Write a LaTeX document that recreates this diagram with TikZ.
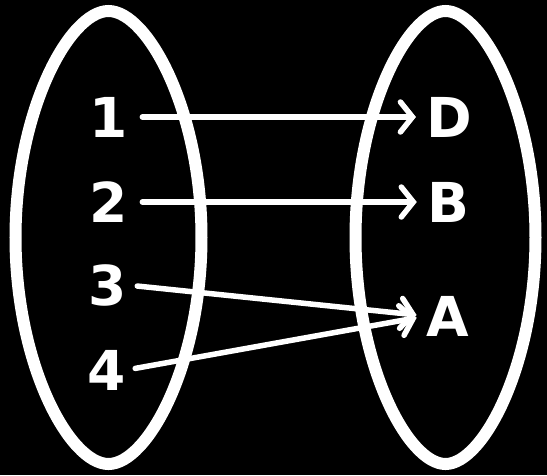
\documentclass[tikz,border=0pt]{standalone}
\usepackage{fontspec}
\setmainfont{DejaVu Sans}
\usetikzlibrary{arrows.meta}
\begin{document}
\begin{tikzpicture}[x=1pt,y=-1pt,
  lbl/.style={text=white,font=\bfseries\fontsize{55}{55}\selectfont,inner sep=0pt},
  ring/.style={draw=white,line width=12pt},
  link/.style={draw=white,line width=5.5pt,line cap=round,-{Straight Barb[length=12pt,width=30pt,line cap=round]}}]
\useasboundingbox (0,0) rectangle (547,475);
\fill[black] (0,0) rectangle (547,475);
% left set
\draw[ring] (108.5,11) .. controls (147.6,11) and (201.5,110.7) .. (201.5,237.5)
  .. controls (201.5,364.3) and (147.6,464) .. (108.5,464)
  .. controls (69.4,464) and (15.5,364.3) .. (15.5,237.5)
  .. controls (15.5,110.7) and (69.4,11) .. cycle;
% right set
\draw[ring] (445.5,11) .. controls (483.3,11) and (535.5,110.7) .. (535.5,237.5)
  .. controls (535.5,364.3) and (483.3,464) .. (445.5,464)
  .. controls (407.7,464) and (355.5,364.3) .. (355.5,237.5)
  .. controls (355.5,110.7) and (407.7,11) .. cycle;
\node[lbl] (n1) at (109,117) {1};
\node[lbl] (n2) at (109,202) {2};
\node[lbl] (n3) at (108,285) {3};
\node[lbl] (n4) at (107,370) {4};
\node[lbl] (nD) at (449,117) {D};
\node[lbl] (nB) at (448,202) {B};
\node[lbl] (nA) at (448,316) {A};
\draw[link,shorten <=14pt,shorten >=10pt] (n1.east) -- (nD.west);
\draw[link,shorten <=14pt,shorten >=10pt] (n2.east) -- (nB.west);
\draw[link,shorten <=10pt,shorten >=10pt] (n3.east) -- (nA.west);
\draw[link,shorten <=9pt,shorten >=10pt] (n4.east) -- (nA.west);
\end{tikzpicture}
\end{document}
